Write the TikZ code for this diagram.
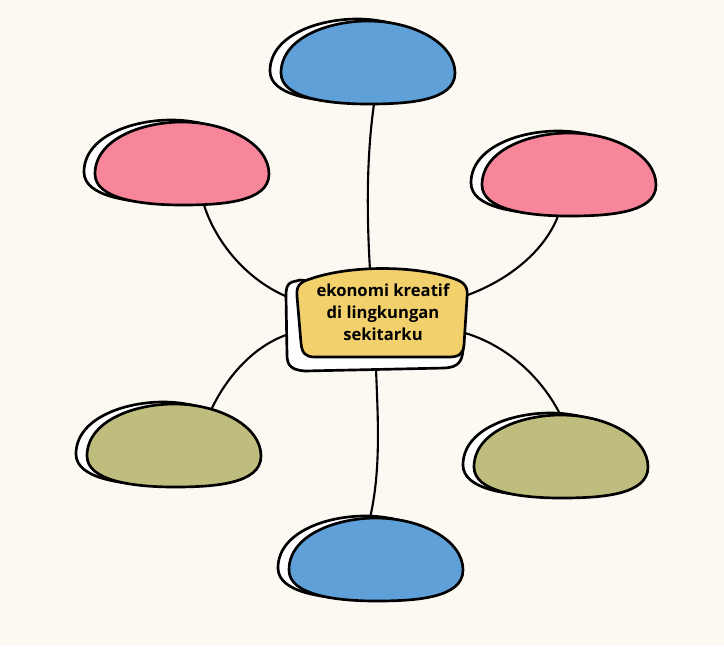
\documentclass[tikz,border=0pt]{standalone}
\usepackage{fontspec}
\setmainfont{Open Sans}
\usepackage{tikz}
\usetikzlibrary{calc}
\definecolor{paper}{HTML}{FCF8F2}
\definecolor{bubbleblue}{HTML}{5FA0D8}
\definecolor{bubblepink}{HTML}{F7869B}
\definecolor{bubbleolive}{HTML}{BFBD7E}
\definecolor{hubyellow}{HTML}{F2D06B}
\tikzset{
    outline/.style={draw=black, line width=1.9pt, line join=round},
    link/.style={draw=black, line width=1.5pt},
    blob shape/.style={
        insert path={(-87,10) .. controls (-87,-25) and (-40,-42) .. (0,-42)
            .. controls (45,-42) and (87,-20) .. (87,10)
            .. controls (87,38) and (40,41) .. (0,41)
            .. controls (-40,41) and (-87,35) .. cycle}
    },
    pics/blob/.style={code={
        \path[outline, fill=white, shift={(-11,-2)}] [blob shape];
        \path[outline, fill=#1] [blob shape];
    }},
    hubtext/.style={font=\bfseries\fontsize{11.8}{15.8}\selectfont, align=center}
}

\begin{document}
\begin{tikzpicture}[x=0.025cm, y=-0.025cm]
    \fill[paper] (0,0) rectangle (724,646);
    % ends of the links
    \coordinate (top-end) at (374,104);
    \coordinate (ul-end) at (204,205);
    \coordinate (ur-end) at (558,216);
    \coordinate (ll-end) at (212,408);
    \coordinate (lr-end) at (560,414);
    \coordinate (b-end) at (370,518);
    \coordinate (hub-n) at (370,270);
    \coordinate (hub-w1) at (290,298);
    \coordinate (hub-e1) at (465,296);
    \coordinate (hub-w2) at (289,334);
    \coordinate (hub-e2) at (465,333);
    \coordinate (hub-s) at (376,369);
    \draw[link] (top-end) .. controls (366,160) and (367,220) .. (hub-n);
    \draw[link] (ul-end) .. controls (215,240) and (245,280) .. (hub-w1);
    \draw[link] (ur-end) .. controls (545,250) and (510,280) .. (hub-e1);
    \draw[link] (hub-w2) .. controls (255,345) and (228,375) .. (ll-end);
    \draw[link] (hub-e2) .. controls (505,345) and (540,375) .. (lr-end);
    \draw[link] (hub-s) .. controls (378,420) and (381,470) .. (b-end);
    % bubbles
    \pic (topblob) at (368,63) {blob=bubbleblue};
    \pic (ulblob) at (182,164) {blob=bubblepink};
    \pic (urblob) at (569,175) {blob=bubblepink};
    \pic (llblob) at (174,446) {blob=bubbleolive};
    \pic (lrblob) at (561,457) {blob=bubbleolive};
    \pic (bblob) at (376,560) {blob=bubbleblue};
    % center box
    \draw[outline, fill=white] (300,280) -- (292,282) .. controls (287,284) and (286,288) .. (286,296)
        -- (287,355) .. controls (287,366) and (292,370) .. (305,371)
        -- (445,368) .. controls (458,367) and (462,362) .. (463,350) -- (464,300) -- cycle;
    \draw[outline, fill=hubyellow] (310,279) .. controls (350,265) and (415,265) .. (455,279)
        .. controls (466,283) and (468,288) .. (467,298) -- (464,345)
        .. controls (463,355) and (458,357) .. (448,357) -- (315,357)
        .. controls (305,357) and (302,353) .. (301,343) -- (297,296)
        .. controls (296,286) and (300,282) .. (310,279) -- cycle;
    \node[hubtext] (hub) at (383,312) {ekonomi kreatif\\di lingkungan\\sekitarku};
\end{tikzpicture}
\end{document}
